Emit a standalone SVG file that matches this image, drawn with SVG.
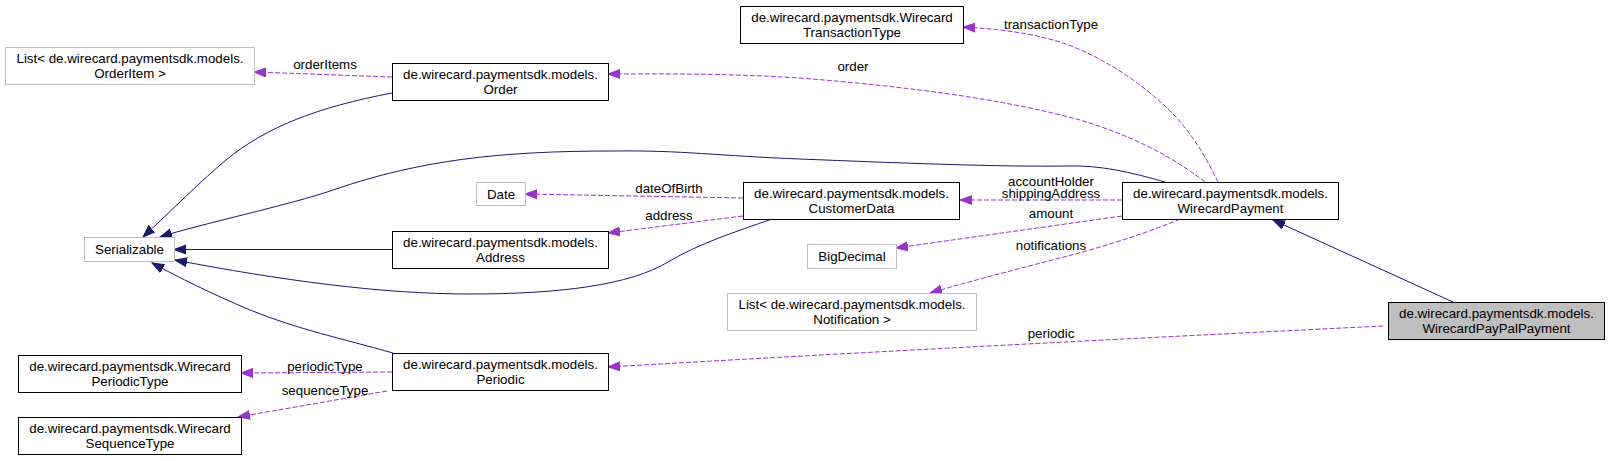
<svg xmlns="http://www.w3.org/2000/svg" width="1610" height="461" viewBox="0 0 1610 461">
<defs>
<style>
text{font-family:"Liberation Sans",Arial,Helvetica,sans-serif;font-size:13.33px;fill:#000;text-anchor:middle}
.n rect{fill:#fff;stroke:#000;stroke-width:1}
.g rect{fill:#fff;stroke:#bfbfbf;stroke-width:1}
.h rect{fill:#bfbfbf;stroke:#000;stroke-width:1}
.inh{fill:none;stroke:#191970;stroke-width:1}
.use{fill:none;stroke:#9a32cd;stroke-width:1;stroke-dasharray:5,2}
</style>
<marker id="ab" markerUnits="userSpaceOnUse" markerWidth="14" markerHeight="12" refX="12" refY="5" orient="auto"><path d="M0,0.5 L12,5 L0,9.5 z" fill="#191970" stroke="#191970" stroke-width="1"/></marker>
<marker id="ap" markerUnits="userSpaceOnUse" markerWidth="14" markerHeight="12" refX="12" refY="5" orient="auto"><path d="M0,0.5 L12,5 L0,9.5 z" fill="#9a32cd" stroke="#9a32cd" stroke-width="1"/></marker>
</defs>
<rect width="1610" height="461" fill="#fff"/>
<g id="connectors">
<path class="inh" marker-end="url(#ab)" d="M392,93 C318,107 266,127 226,160 C203,179 172,210 143,237"/>
<path class="inh" marker-end="url(#ab)" d="M1165,182 C1130,172 1100,165 1067,166 C1000,167 900,163 800,159 C720,156 680,150 613,151 C500,151 420,160 333,190 C290,205 200,224 160,237"/>
<path class="inh" marker-end="url(#ab)" d="M392,249.5 L174,249.5"/>
<path class="inh" marker-end="url(#ab)" d="M772,219 C735,232 700,243 668,262 C630,285 560,294 470,294 C380,294 280,280 175,260"/>
<path class="inh" marker-end="url(#ab)" d="M393,353 C340,338 300,330 250,310 C210,293 180,278 152,263"/>
<path class="inh" marker-end="url(#ab)" d="M1453,302 L1273,220"/>
<path class="use" marker-end="url(#ap)" d="M392,77 L254,72"/>
<path class="use" marker-end="url(#ap)" d="M1205,182 C1170,155 1130,135 1080,120 C1000,98 900,86 800,78 C720,73 660,74 608,74"/>
<path class="use" marker-end="url(#ap)" d="M1218,182 C1205,155 1190,130 1167,108 C1140,82 1100,55 1060,42 C1030,33 1000,29 963,27"/>
<path class="use" marker-end="url(#ap)" d="M1122,200 L960,200"/>
<path class="use" marker-end="url(#ap)" d="M1122,216 L896,248"/>
<path class="use" marker-end="url(#ap)" d="M1180,219 C1150,232 1100,248 1060,258 C1010,271 960,284 930,293"/>
<path class="use" marker-end="url(#ap)" d="M743,198 L525,194"/>
<path class="use" marker-end="url(#ap)" d="M743,216 L608,233"/>
<path class="use" marker-end="url(#ap)" d="M1383,326 C1200,335 900,350 608,367"/>
<path class="use" marker-end="url(#ap)" d="M392,372 L241,373"/>
<path class="use" marker-end="url(#ap)" d="M387,391 L238,417"/>
<text x="325" y="68.5">orderItems</text>
<text x="853" y="71">order</text>
<text x="1051" y="28.5">transactionType</text>
<text x="1051" y="185.5">accountHolder</text>
<text x="1051" y="197.5">shippingAddress</text>
<text x="1051" y="217.5">amount</text>
<text x="1051" y="249.5">notifications</text>
<text x="669" y="192.5">dateOfBirth</text>
<text x="669" y="219.5">address</text>
<text x="1051" y="337.5">periodic</text>
<text x="325" y="370.5">periodicType</text>
<text x="325" y="394.5">sequenceType</text>
</g>
<g id="serializable" class="g"><rect x="84.5" y="237.5" width="90" height="24"/><text x="129.5" y="254">Serializable</text></g>
<g id="list-orderitem" class="g"><rect x="5.5" y="47.5" width="249" height="37"/><text x="130" y="63">List&lt; de.wirecard.paymentsdk.models.</text><text x="130" y="77.5">OrderItem &gt;</text></g>
<g id="order" class="n"><rect x="392.5" y="63.5" width="216" height="37"/><text x="500.5" y="79">de.wirecard.paymentsdk.models.</text><text x="500.5" y="93.5">Order</text></g>
<g id="transactiontype" class="n"><rect x="740.5" y="6.5" width="223" height="37"/><text x="852" y="22">de.wirecard.paymentsdk.Wirecard</text><text x="852" y="36.5">TransactionType</text></g>
<g id="date" class="g"><rect x="476.5" y="182.5" width="49" height="23"/><text x="501" y="198.5">Date</text></g>
<g id="customerdata" class="n"><rect x="743.5" y="182.5" width="216" height="37"/><text x="851.5" y="198">de.wirecard.paymentsdk.models.</text><text x="851.5" y="212.5">CustomerData</text></g>
<g id="wirecardpayment" class="n"><rect x="1122.5" y="182.5" width="216" height="37"/><text x="1230.5" y="198">de.wirecard.paymentsdk.models.</text><text x="1230.5" y="212.5">WirecardPayment</text></g>
<g id="address" class="n"><rect x="392.5" y="231.5" width="216" height="37"/><text x="500.5" y="247">de.wirecard.paymentsdk.models.</text><text x="500.5" y="261.5">Address</text></g>
<g id="bigdecimal" class="g"><rect x="807.5" y="244.5" width="89" height="24"/><text x="852" y="261">BigDecimal</text></g>
<g id="list-notification" class="g"><rect x="727.5" y="293.5" width="249" height="37"/><text x="852" y="309">List&lt; de.wirecard.paymentsdk.models.</text><text x="852" y="323.5">Notification &gt;</text></g>
<g id="wirecardpaypalpayment" class="h"><rect x="1388.5" y="302.5" width="216" height="37"/><text x="1496.5" y="318">de.wirecard.paymentsdk.models.</text><text x="1496.5" y="332.5">WirecardPayPalPayment</text></g>
<g id="periodic" class="n"><rect x="392.5" y="353.5" width="216" height="37"/><text x="500.5" y="369">de.wirecard.paymentsdk.models.</text><text x="500.5" y="383.5">Periodic</text></g>
<g id="periodictype" class="n"><rect x="18.5" y="355.5" width="223" height="37"/><text x="130" y="371">de.wirecard.paymentsdk.Wirecard</text><text x="130" y="385.5">PeriodicType</text></g>
<g id="sequencetype" class="n"><rect x="18.5" y="417.5" width="223" height="37"/><text x="130" y="433">de.wirecard.paymentsdk.Wirecard</text><text x="130" y="447.5">SequenceType</text></g>
</svg>
